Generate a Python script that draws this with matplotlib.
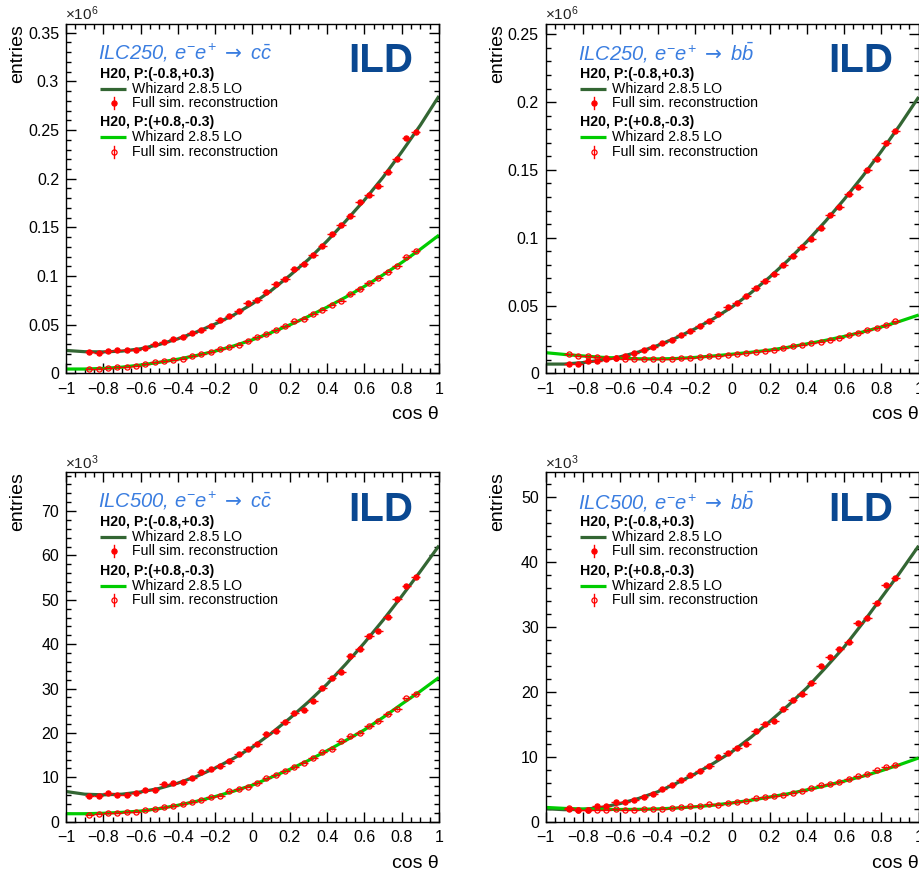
import numpy as np
import matplotlib
matplotlib.use("Agg")
import matplotlib.pyplot as plt
from matplotlib.ticker import MultipleLocator, FuncFormatter

plt.rcParams['font.family'] = ['Liberation Sans', 'DejaVu Sans']
plt.rcParams['mathtext.fontset'] = 'custom'
plt.rcParams['mathtext.rm'] = 'Liberation Sans'
plt.rcParams['mathtext.it'] = 'Liberation Sans:italic'
plt.rcParams['mathtext.bf'] = 'Liberation Sans:bold'
plt.rcParams['mathtext.sf'] = 'DejaVu Sans'

# ---------------- data ----------------
BIN_EDGES = np.linspace(-0.9, 0.9, 37)          # 36 bins of width 0.05
COS_GRID = np.linspace(-1.0, 1.0, 21)           # grid of the Whizard curves

# ILC250, c cbar  (units of 1e6 entries)
cc250_lr_reco = [0.0222, 0.0208, 0.0229, 0.0235, 0.0235, 0.0242, 0.0263, 0.0297, 0.0317, 0.0355,
                 0.0372, 0.0413, 0.0444, 0.0488, 0.0549, 0.0590, 0.0642, 0.0720, 0.0758, 0.0834,
                 0.0914, 0.0972, 0.1069, 0.1120, 0.1214, 0.1310, 0.1431, 0.1524, 0.1620, 0.1760,
                 0.1830, 0.1920, 0.2070, 0.2200, 0.2414, 0.2484]
cc250_lr_whiz = [0.0235, 0.0222, 0.0220, 0.0228, 0.0252, 0.0296, 0.0355, 0.0425, 0.0507, 0.0600,
                 0.0715, 0.0850, 0.1005, 0.1170, 0.1360, 0.1565, 0.1780, 0.2015, 0.2275, 0.2550, 0.2850]
cc250_rl_reco = [0.0044, 0.0044, 0.0057, 0.0065, 0.0065, 0.0078, 0.0092, 0.0113, 0.0123, 0.0137,
                 0.0150, 0.0174, 0.0194, 0.0215, 0.0249, 0.0270, 0.0293, 0.0327, 0.0372, 0.0403,
                 0.0448, 0.0483, 0.0534, 0.0562, 0.0610, 0.0648, 0.0707, 0.0748, 0.0810, 0.0862,
                 0.0924, 0.0983, 0.1041, 0.1103, 0.1200, 0.1259]
cc250_rl_whiz = [0.0044, 0.0044, 0.0050, 0.0063, 0.0085, 0.0113, 0.0145, 0.0183, 0.0228, 0.0282,
                 0.0345, 0.0418, 0.0498, 0.0585, 0.0680, 0.0783, 0.0893, 0.1012, 0.1138, 0.1275, 0.1420]

# ILC250, b bbar  (units of 1e6 entries)
bb250_lr_reco = [0.0072, 0.0069, 0.0089, 0.0092, 0.0104, 0.0113, 0.0129, 0.0149, 0.0171, 0.0192,
                 0.0222, 0.0246, 0.0280, 0.0310, 0.0352, 0.0388, 0.0437, 0.0487, 0.0521, 0.0570,
                 0.0627, 0.0683, 0.0733, 0.0799, 0.0865, 0.0934, 0.0988, 0.1069, 0.1168, 0.1229,
                 0.1322, 0.1377, 0.1500, 0.1578, 0.1700, 0.1787]
bb250_lr_whiz = [0.0068, 0.0068, 0.0079, 0.0098, 0.0122, 0.0158, 0.0205, 0.0262, 0.0328, 0.0403,
                 0.0490, 0.0593, 0.0708, 0.0834, 0.0971, 0.1121, 0.1282, 0.1454, 0.1638, 0.1832, 0.2038]
bb250_rl_reco = [0.0140, 0.0130, 0.0125, 0.0118, 0.0115, 0.0113, 0.0108, 0.0106, 0.0106, 0.0106,
                 0.0106, 0.0108, 0.0110, 0.0115, 0.0123, 0.0125, 0.0130, 0.0138, 0.0145, 0.0150,
                 0.0155, 0.0165, 0.0174, 0.0184, 0.0201, 0.0211, 0.0224, 0.0233, 0.0248, 0.0260,
                 0.0280, 0.0300, 0.0317, 0.0332, 0.0354, 0.0383]
bb250_rl_whiz = [0.0152, 0.0139, 0.0128, 0.0118, 0.0111, 0.0107, 0.0106, 0.0109, 0.0117, 0.0128,
                 0.0141, 0.0155, 0.0171, 0.0192, 0.0217, 0.0243, 0.0272, 0.0305, 0.0342, 0.0384, 0.0430]

# ILC500, c cbar  (units of 1e3 entries)
cc500_lr_reco = [5.86, 5.86, 6.39, 6.01, 6.01, 6.39, 7.14, 7.14, 8.41, 8.64,
                 8.87, 9.92, 11.27, 11.80, 12.55, 13.75, 15.18, 16.30, 17.43, 19.68,
                 20.44, 22.54, 24.57, 25.17, 27.27, 30.20, 32.46, 33.81, 37.34, 38.84,
                 41.85, 42.98, 46.20, 50.11, 53.19, 55.22]
cc500_lr_whiz = [6.8, 6.2, 6.05, 6.2, 6.7, 7.5, 8.7, 10.2, 12.1, 14.3,
                 16.8, 19.9, 23.3, 27.0, 31.0, 35.5, 40.3, 45.4, 50.8, 56.4, 62.2]
cc500_rl_reco = [1.50, 1.73, 1.88, 2.03, 2.10, 2.25, 2.63, 2.78, 3.23, 3.53,
                 3.91, 4.51, 4.88, 5.48, 5.86, 6.99, 7.29, 7.89, 8.64, 9.77,
                 10.52, 11.42, 12.25, 13.30, 14.27, 15.63, 16.30, 18.18, 19.31, 19.91,
                 21.56, 22.69, 24.19, 25.32, 27.80, 28.78]
cc500_rl_whiz = [1.8, 1.8, 1.9, 2.1, 2.4, 2.95, 3.7, 4.6, 5.67, 6.9,
                 8.25, 10.0, 11.8, 13.8, 16.0, 18.3, 20.7, 23.5, 26.5, 29.4, 32.5]

# ILC500, b bbar  (units of 1e3 entries)
bb500_lr_reco = [2.01, 1.75, 1.85, 2.36, 2.36, 2.98, 2.98, 3.29, 3.75, 4.27,
                 5.04, 5.71, 6.48, 7.25, 7.87, 8.64, 9.92, 10.59, 11.36, 12.03,
                 13.98, 15.06, 15.52, 17.32, 18.76, 19.63, 21.43, 24.05, 25.33, 26.62,
                 27.75, 30.58, 31.35, 33.76, 36.49, 37.51]
bb500_lr_whiz = [2.0, 1.85, 1.9, 2.2, 2.8, 3.6, 4.6, 5.9, 7.35, 9.0,
                 10.8, 13.0, 15.4, 17.9, 20.6, 23.7, 26.9, 30.6, 34.5, 38.4, 42.5]
bb500_rl_reco = [2.06, 1.85, 1.75, 1.85, 1.80, 1.90, 1.85, 1.85, 1.90, 1.95,
                 2.00, 2.06, 2.21, 2.37, 2.42, 2.72, 2.62, 2.88, 3.08, 3.19,
                 3.65, 3.75, 3.91, 4.11, 4.42, 4.78, 5.19, 5.66, 5.76, 6.12,
                 6.58, 6.99, 7.35, 7.92, 8.48, 8.74]
bb500_rl_whiz = [2.2, 2.05, 1.95, 1.9, 1.88, 1.9, 1.97, 2.1, 2.3, 2.55,
                 2.9, 3.3, 3.8, 4.3, 4.9, 5.55, 6.25, 7.0, 7.85, 8.8, 9.82]

PANELS = [
    dict(energy="ILC250", quark="c", scale=1e6, exp="6", ymax=0.359, major=0.05, minor=0.01,
         lr=(cc250_lr_reco, cc250_lr_whiz), rl=(cc250_rl_reco, cc250_rl_whiz)),
    dict(energy="ILC250", quark="b", scale=1e6, exp="6", ymax=0.2576, major=0.05, minor=0.01,
         lr=(bb250_lr_reco, bb250_lr_whiz), rl=(bb250_rl_reco, bb250_rl_whiz)),
    dict(energy="ILC500", quark="c", scale=1e3, exp="3", ymax=78.7, major=10, minor=2,
         lr=(cc500_lr_reco, cc500_lr_whiz), rl=(cc500_rl_reco, cc500_rl_whiz)),
    dict(energy="ILC500", quark="b", scale=1e3, exp="3", ymax=53.8, major=10, minor=2,
         lr=(bb500_lr_reco, bb500_lr_whiz), rl=(bb500_rl_reco, bb500_rl_whiz)),
]
HEADERS = ["H20, P:(-0.8,+0.3)", "H20, P:(+0.8,-0.3)"]
LABEL_WHIZ = "Whizard 2.8.5 LO"
LABEL_RECO = "Full sim. reconstruction"

# ---------------- style ----------------
DARK_GREEN = '#336633'
LIGHT_GREEN = '#00cc00'
RED = '#ff0000'
TITLE_BLUE = '#3a7de0'
ILD_BLUE = '#0a4891'

W, H = 920, 871
fig = plt.figure(figsize=(W / 100, H / 100), dpi=100)

ax_w = 373 / W
ax_h = 349.3 / H
lefts = [66 / W, 545.7 / W]
bottoms = [1 - 373.3 / H, 1 - 821.7 / H]

def xfmt(v, p):
    if abs(v) < 1e-9:
        return "0"
    return ("%g" % round(v, 3)).replace("-", "\u2212")

def yfmt(v, p):
    if abs(v) < 1e-12:
        return "0"
    return "%g" % round(v, 4)

centers = 0.5 * (BIN_EDGES[:-1] + BIN_EDGES[1:])
half_w = 0.5 * np.diff(BIN_EDGES)
MS = 3.7

for i, pn in enumerate(PANELS):
    row, col = divmod(i, 2)
    ax = fig.add_axes([lefts[col], bottoms[row], ax_w, ax_h])
    ax.set_xlim(-1, 1)
    ax.set_ylim(0, pn["ymax"])

    # curves
    ax.plot(COS_GRID, pn["lr"][1], color=DARK_GREEN, lw=2.3, zorder=2, solid_capstyle='butt')
    ax.plot(COS_GRID, pn["rl"][1], color=LIGHT_GREEN, lw=2.3, zorder=2, solid_capstyle='butt')

    # reconstructed points with statistical errors
    for (reco, _), filled in ((pn["lr"], True), (pn["rl"], False)):
        vals = np.asarray(reco)
        yerr = np.sqrt(vals * pn["scale"]) / pn["scale"]
        ax.errorbar(centers, vals, xerr=half_w, yerr=yerr, fmt='o', ms=MS,
                    mfc=RED if filled else 'none', mec=RED, mew=0.9,
                    ecolor=RED, elinewidth=1.0, capsize=0, zorder=3)

    # axes styling
    for s in ax.spines.values():
        s.set_linewidth(1.0)
    ax.xaxis.set_major_locator(MultipleLocator(0.2))
    ax.xaxis.set_minor_locator(MultipleLocator(0.05))
    ax.yaxis.set_major_locator(MultipleLocator(pn["major"]))
    ax.yaxis.set_minor_locator(MultipleLocator(pn["minor"]))
    ax.xaxis.set_major_formatter(FuncFormatter(xfmt))
    ax.yaxis.set_major_formatter(FuncFormatter(yfmt))
    ax.tick_params(which='both', direction='in', top=True, right=True, width=1.0)
    ax.tick_params(which='major', length=7.5, labelsize=11.5)
    ax.tick_params(axis='x', which='major', pad=6)
    ax.tick_params(axis='y', which='major', pad=5)
    ax.tick_params(which='minor', length=3.8)

    ax.set_ylabel("entries", fontsize=14, loc='top')
    ax.yaxis.set_label_coords(-0.107, 1.0)
    ax.set_xlabel("cos \u03b8", fontsize=14, loc='right')
    ax.xaxis.set_label_coords(1.0, -0.094)

    ax.text(-0.003, 1.002, r"$\times$10$^{%s}$" % pn["exp"], transform=ax.transAxes,
            ha='left', va='bottom', fontsize=11, color='#222222')

    # title and ILD label
    title = r"%s, $e^{-}e^{+}\ \mathsf{\rightarrow}\ %s\bar{%s}$" % (pn["energy"], pn["quark"], pn["quark"])
    ax.text(0.087, 0.917, title, transform=ax.transAxes, ha='left', va='center',
            fontsize=14.5, style='italic', color=TITLE_BLUE)
    ax.text(0.845, 0.893, "ILD", transform=ax.transAxes, ha='center', va='center',
            fontsize=29, fontweight='bold', color=ILD_BLUE)

    # legend blocks
    ys = [(0.857, 0.814, 0.774), (0.719, 0.676, 0.634)]
    for (yh, yw, yr), hdr, lc, filled in zip(ys, HEADERS, (DARK_GREEN, LIGHT_GREEN), (True, False)):
        ax.text(0.091, yh, hdr, transform=ax.transAxes, ha='left', va='center',
                fontsize=10.2, fontweight='bold')
        ax.plot([0.091, 0.161], [yw, yw], transform=ax.transAxes, color=lc, lw=2.3,
                clip_on=False, solid_capstyle='butt')
        ax.text(0.177, yw, LABEL_WHIZ, transform=ax.transAxes, ha='left', va='center', fontsize=10.2)
        ax.plot([0.129, 0.129], [yr - 0.017, yr + 0.017], transform=ax.transAxes, color=RED,
                lw=1.0, clip_on=False)
        ax.plot([0.129], [yr], transform=ax.transAxes, marker='o', ms=MS,
                mfc=RED if filled else 'none', mec=RED, mew=0.9, ls='none', clip_on=False)
        ax.text(0.177, yr, LABEL_RECO, transform=ax.transAxes, ha='left', va='center', fontsize=10.2)

fig.savefig("out.png", dpi=100, facecolor='white')
